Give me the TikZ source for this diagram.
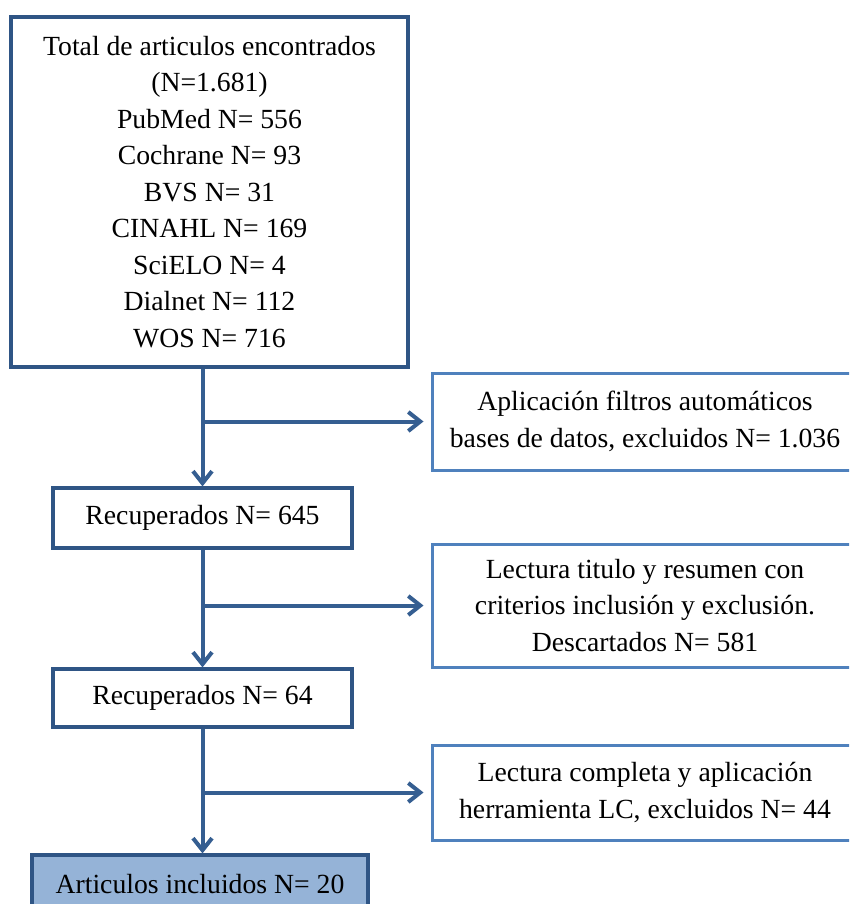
\documentclass[tikz,border=0pt]{standalone}
\usepackage{fontspec}
\setmainfont{Liberation Serif}
\usetikzlibrary{arrows.meta}
\definecolor{darkb}{HTML}{2F5585}
\definecolor{arrb}{HTML}{355E91}
\definecolor{lightb}{HTML}{4F81BD}
\definecolor{fillb}{HTML}{95B3D7}
\tikzset{
  txt/.style={font=\fontsize{27.7}{36.5}\selectfont, align=center, inner sep=0pt, text=black},
  darkbox/.style={txt, draw=darkb, line width=3.2pt, rectangle},
  lightbox/.style={txt, draw=lightb, line width=3pt, rectangle},
  finalbox/.style={darkbox, fill=fillb},
  arr/.style={draw=arrb, line width=4pt, -{Straight Barb[length=12pt,width=19pt]}},
  ln/.style={draw=arrb, line width=4pt}
}
\begin{document}
\begin{tikzpicture}[x=1pt,y=-1pt]
\clip (0,0) rectangle (849,904);
\fill[white] (0,0) rectangle (849,904);

\node[darkbox, minimum width=397pt, minimum height=350pt] (total) at (209.5,192)
  {Total de articulos encontrados\\(N=1.681)\\PubMed N= 556\\Cochrane N= 93\\BVS N= 31\\CINAHL N= 169\\SciELO N= 4\\Dialnet N= 112\\WOS N= 716};

\node[lightbox, minimum width=426pt, minimum height=97pt] (r1) at (645,421.5)
  {Aplicación filtros automáticos\\bases de datos, excluidos N= 1.036};

\node[darkbox, minimum width=299pt, minimum height=60pt] (rec645) at (202.5,518)
  {Recuperados N= 645};

\node[lightbox, minimum width=426pt, minimum height=123pt] (r2) at (645,605.5)
  {Lectura titulo y resumen con\\criterios inclusión y exclusión.\\Descartados N= 581};

\node[darkbox, minimum width=299pt, minimum height=58pt] (rec64) at (202.5,698)
  {Recuperados N= 64};

\node[lightbox, minimum width=426pt, minimum height=95pt] (r3) at (645,792.5)
  {Lectura completa y aplicación\\herramienta LC, excluidos N= 44};

\node[finalbox, minimum width=336pt, minimum height=58pt] (incl) at (200,884)
  {Articulos incluidos N= 20};

% main flow
\draw[arr] (total.south -| rec645.north) -- (rec645.north);
\draw[arr] (rec645.south) -- (rec64.north);
\draw[arr] (rec64.south) -- (rec64.south |- incl.north);

% side branches
\draw[arr, shorten >=7pt] (rec645.north |- r1.west) -- (r1.west);
\draw[arr, shorten >=7pt] (rec645.south |- r2.west) -- (r2.west);
\draw[arr, shorten >=7pt] (rec64.south |- r3.west) -- (r3.west);
\end{tikzpicture}
\end{document}
